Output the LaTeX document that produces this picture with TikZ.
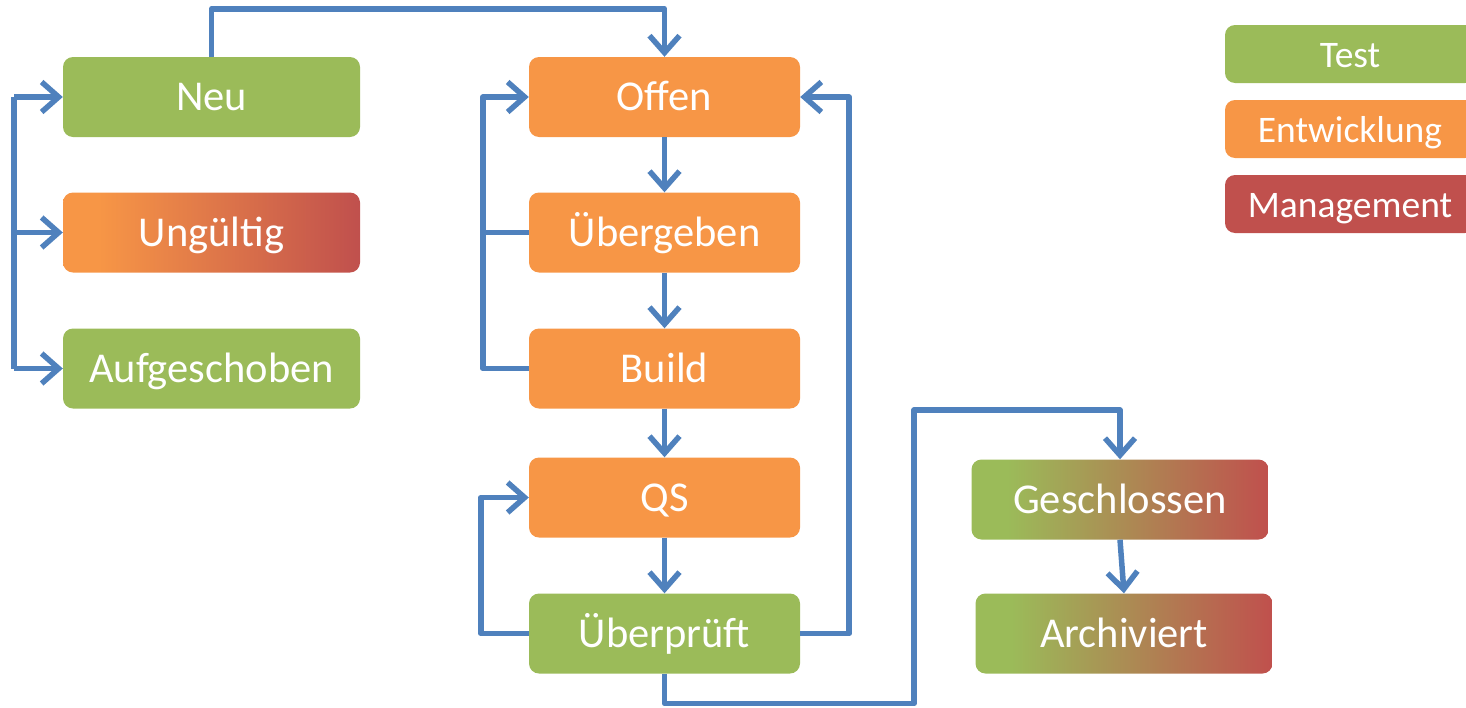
\documentclass[tikz,border=0pt]{standalone}
\usepackage{fontspec}
\setmainfont{Carlito}
\usetikzlibrary{arrows.meta, positioning, calc}
\definecolor{testgreen}{HTML}{9BBB59}
\definecolor{devorange}{HTML}{F79646}
\definecolor{mgmtred}{HTML}{C0504D}
\definecolor{flowblue}{HTML}{4F81BD}
\pgfdeclarehorizontalshading{devmgmtshade}{100bp}{color(0bp)=(devorange); color(31bp)=(devorange); color(75bp)=(mgmtred); color(100bp)=(mgmtred)}
\pgfdeclarehorizontalshading{testmgmtshade}{100bp}{color(0bp)=(testgreen); color(31bp)=(testgreen); color(75bp)=(mgmtred); color(100bp)=(mgmtred)}
\tikzset{
  state/.style={rounded corners=10pt, minimum width=297pt, minimum height=80pt, inner sep=0pt, text=white, text height=35pt, text depth=8pt, font=\fontsize{42.5}{50}\selectfont},
  test/.style={state, fill=testgreen},
  dev/.style={state, fill=devorange},
  mgmt/.style={state, fill=mgmtred},
  devmgmt/.style={state, shade, shading=devmgmtshade},
  testmgmt/.style={state, shade, shading=testmgmtshade},
  legend/.style={rounded corners=10pt, minimum width=250pt, minimum height=58pt, inner sep=0pt, text=white, text height=32pt, text depth=6pt, font=\fontsize{37.5}{45}\selectfont},
  link/.style={flowblue, line width=5.5pt, line join=round},
  flow/.style={link, -{Straight Barb[length=17pt,width=30pt]}}
}
\begin{document}
\begin{tikzpicture}[x=1pt, y=-1pt]
  \useasboundingbox (0,0) rectangle (1466,707);

  % states
  \node[test] (neu) at (211.5,97) {Neu};
  \node[devmgmt] (ungueltig) at (211.5,232.5) {Ungültig};
  \node[test] (aufg) at (211.5,368.5) {Aufgeschoben};

  \node[dev, minimum width=271pt] (offen) at (664.5,97) {Offen};
  \node[dev, minimum width=271pt] (uebergeben) at (664.5,232.5) {Übergeben};
  \node[dev, minimum width=271pt] (build) at (664.5,368.5) {Build};
  \node[dev, minimum width=271pt] (qs) at (664.5,497.5) {QS};
  \node[test, minimum width=271pt] (ueberprueft) at (664.5,633.5) {Überprüft};

  \node[testmgmt] (geschlossen) at (1120,499.5) {Geschlossen};
  \node[testmgmt] (archiviert) at (1124,633.5) {Archiviert};

  % legend
  \node[legend, fill=testgreen] (ltest) at (1350,54) {Test};
  \node[legend, fill=devorange] (ldev) at (1350,129) {Entwicklung};
  \node[legend, fill=mgmtred] (lmgmt) at (1350,204) {Management};

  % connectors
  \coordinate (lbus) at (14,0);
  \coordinate (jog) at (914,410);

  \draw[flow] (neu.north) -- ++(0,-48) -| (offen.north);
  \draw[link] (lbus |- neu) -- (lbus |- aufg);
  \foreach \n in {neu, ungueltig, aufg}
    \draw[flow] (lbus |- \n) -- (\n.west);

  \draw[flow] (offen) -- (uebergeben);
  \draw[flow] (uebergeben) -- (build);
  \draw[flow] (build) -- (qs);
  \draw[flow] (qs) -- (ueberprueft);

  \draw[link] (uebergeben.west) -- ++(-46,0);
  \draw[flow] (build.west) -- ++(-46,0) |- (offen.west);
  \draw[flow] (ueberprueft.west) -- ++(-48,0) |- (qs.west);
  \draw[flow] (ueberprueft.east) -- ++(49,0) |- (offen.east);

  \draw[flow] (ueberprueft.south) -- ++(0,30) -| (jog) -| (geschlossen.north);
  \draw[flow] (geschlossen.south) -- (archiviert.north);
\end{tikzpicture}
\end{document}
